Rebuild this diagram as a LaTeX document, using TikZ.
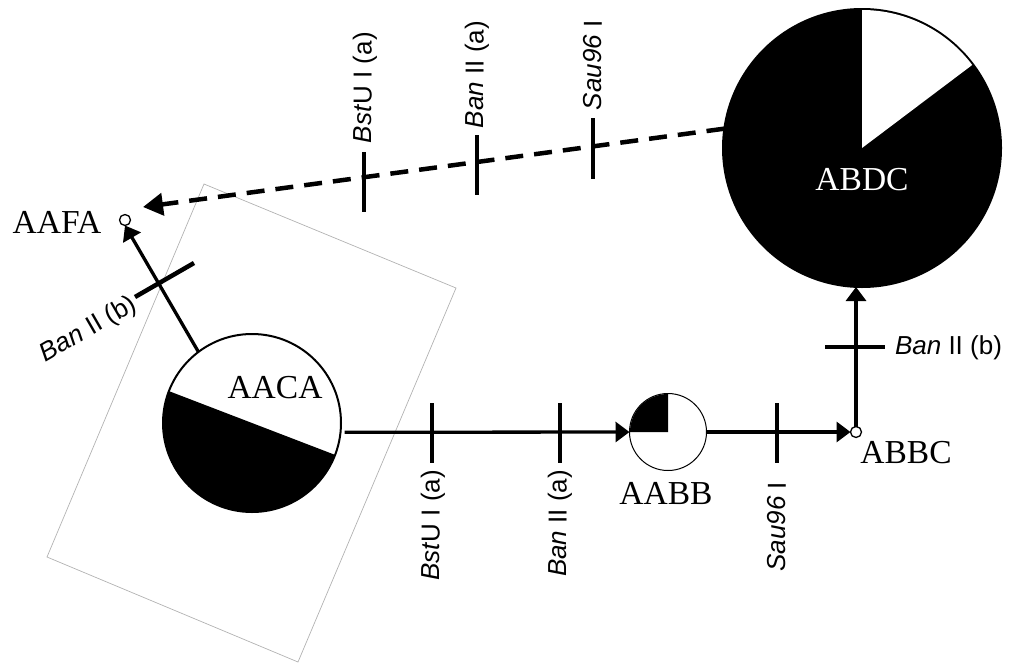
\documentclass[tikz,border=0pt]{standalone}
\usepackage{fontspec}
\setmainfont{Liberation Serif}
\newfontfamily\lsans{Liberation Sans}
\usetikzlibrary{arrows.meta,calc}
\tikzset{
  every node/.style={inner sep=0pt, outer sep=0pt},
  namelabel/.style={font=\fontsize{33.5}{40}\selectfont},
  sitelabel/.style={font=\lsans\fontsize{26}{30}\selectfont},
  conn/.style={line width=3.3pt, -{Triangle[length=14pt,width=20pt]}},
  dconn/.style={line width=4.5pt, dash pattern=on 18pt off 11pt, -{Triangle[length=20pt,width=22pt]}},
  cut/.style={line width=4.5pt},
  frame/.style={draw=black!30, line width=0.7pt},
  bigcirc/.style={circle, draw, line width=2pt},
  smallcirc/.style={circle, draw, line width=1.3pt, fill=white, minimum size=11pt},
}
\begin{document}
\begin{tikzpicture}[x=1pt,y=-1pt]
\useasboundingbox (0,0) rectangle (1011,664);

% tilted frame
\draw[frame] (204,184) -- (456,288) -- (298,662) -- (47,557) -- cycle;

% AACA
\node[bigcirc, fill=white, minimum size=178pt] (aaca) at (252,423) {};
\fill[black] (aaca.center) -- ++(-159:89) arc[start angle=-159, end angle=-339, radius=89] -- cycle;
\node[namelabel] (taaca) at (275,388) {AACA};

% ABDC
\node[bigcirc, fill=black, minimum size=278pt] (abdc) at (862,148) {};
\fill[white] (abdc.center) -- ++(-37:138) arc[start angle=-37, end angle=-90, radius=138] -- cycle;
\node[namelabel, text=white] (tabdc) at (862,180) {ABDC};

% AABB
\node[circle, draw, line width=1pt, fill=white, minimum size=77pt] (aabb) at (668,432) {};
\fill[black] (aabb.center) -- ++(-90:38) arc[start angle=-90, end angle=-180, radius=38] -- cycle;
\node[namelabel] (taabb) at (666,493) {AABB};

% small nodes
\node[smallcirc] (abbc) at (856,432) {};
\node[namelabel] (tabbc) at (906,453) {ABBC};
\node[smallcirc] (aafa) at (125,220) {};
\node[namelabel] (taafa) at (57,222) {AAFA};

% connectors
\coordinate (dashend) at (143,207);
\draw[dconn] (abdc.172) -- (dashend);
\draw[conn, shorten <=4pt] (aaca.-6) -- (aabb.west);
\draw[conn] (aabb.east) -- (abbc.west);
\draw[conn] (abbc.north) -- (abbc.north |- abdc.south);
\draw[conn] (aaca.127) -- (aafa.south);

% cut marks on dashed path
\draw[cut] (364,152) -- (364,212);
\draw[cut] (477,135) -- (477,195);
\draw[cut] (593,118) -- (593,179);
\node[sitelabel, rotate=90, anchor=west] (l1) at (365,143) {\textit{Bst}U I (a)};
\node[sitelabel, rotate=90, anchor=west] (l2) at (477,128) {\textit{Ban} II (a)};
\node[sitelabel, rotate=90, anchor=west] (l3) at (593,110) {\textit{Sau96} I};

% cut marks on lower path
\draw[cut] (432,403) -- (432,463);
\draw[cut] (560,403) -- (560,463);
\draw[cut] (777,403) -- (777,463);
\node[sitelabel, rotate=90, anchor=east] (l4) at (433,470) {\textit{Bst}U I (a)};
\node[sitelabel, rotate=90, anchor=east] (l5) at (560,470) {\textit{Ban} II (a)};
\node[sitelabel, rotate=90, anchor=east] (l6) at (777,482) {\textit{Sau96} I};

% cut mark on vertical path
\draw[cut] (825,347) -- (885,347);
\node[sitelabel, anchor=west] (l7) at (895,348) {\textit{Ban} II (b)};

% cut mark on path to AAFA
\draw[cut] (135,297) -- (194,263);
\node[sitelabel, rotate=30, anchor=east] (l8) at (135,303) {\textit{Ban} II (b)};
\end{tikzpicture}
\end{document}
